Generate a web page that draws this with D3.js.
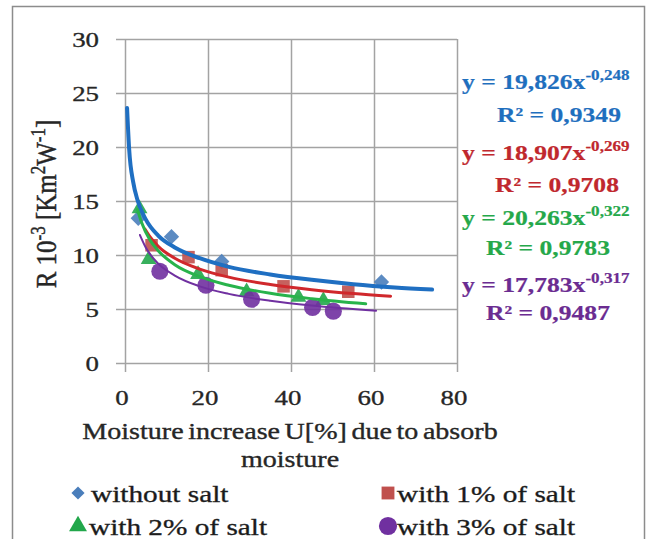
<!DOCTYPE html>
<html>
<head>
<meta charset="utf-8">
<script src="https://cdn.jsdelivr.net/npm/d3@7"></script>
<style>
body { margin: 0; background: #fff; }
text { font-family: "Liberation Serif", "Times New Roman", serif; }
</style>
</head>
<body>
<div id="chart"></div>
<script>
/* thermal resistance vs moisture increase, four salt contents, with power trendlines */

var blue_x = [3.2, 11.2, 23.3, 61.8]
var blue_y = [13.4, 11.7, 9.4, 7.5]
var red_x = [6.4, 15.3, 23.3, 38.2, 53.8]
var red_y = [10.9, 9.8, 8.6, 7.1, 6.6]
var green_x = [3.5, 5.7, 17.6, 29.3, 41.8, 47.8]
var green_y = [14.3, 9.6, 8.2, 6.6, 6.1, 5.8]
var purple_x = [8.4, 19.5, 30.5, 45.2, 50.2]
var purple_y = [8.5, 7.2, 5.9, 5.15, 4.8]

// trendline points
var blue_trend = [[0.5, 23.6], [1, 19.8], [2, 16.7], [3, 15.1], [5, 13.3], [8, 11.8], [12, 10.7], [18, 9.7], [25, 8.9], [35, 8.2], [45, 7.7], [55, 7.3], [65, 7.0], [74, 6.8]]
var red_trend = [[4.8, 12.4], [6, 11.7], [8, 10.8], [12, 9.7], [18, 8.7], [25, 7.95], [35, 7.27], [45, 6.79], [55, 6.43], [64, 6.18]]
var green_trend = [[3, 14.2], [4, 13.0], [6, 11.4], [8, 10.4], [12, 9.1], [18, 8.0], [25, 7.2], [35, 6.45], [45, 5.95], [58, 5.48]]
var purple_trend = [[3.6, 11.85], [5, 10.7], [8, 9.2], [12, 8.1], [18, 7.1], [25, 6.4], [35, 5.76], [45, 5.32], [60.5, 4.84]]

// labels
var series_names = ["without salt", "with 1% of salt", "with 2% of salt", "with 3% of salt"]
var eq_main = ["y = 19,826x", "y = 18,907x", "y = 20,263x", "y = 17,783x"]
var eq_power = ["-0,248", "-0,269", "-0,322", "-0,317"]
var eq_r2 = ["R\u00b2 = 0,9349", "R\u00b2 = 0,9708", "R\u00b2 = 0,9783", "R\u00b2 = 0,9487"]
var x_ticks = [0, 20, 40, 60, 80]
var y_ticks = [0, 5, 10, 15, 20, 25, 30]

var width = 650, height = 539;
var SX = 1.22; // the original picture is stretched sideways

var svg = d3.select("#chart")
    .append("svg")
    .attr("width", width)
    .attr("height", height)

// outer frame
svg.append("rect")
    .attr("x", 12.5).attr("y", 6.5)
    .attr("width", 632).attr("height", 545)
    .attr("fill", "#fff")
    .attr("stroke", "#8c8c8c")
    .attr("stroke-width", 1.5)

var x = d3.scaleLinear().domain([0, 80]).range([125, 457]);
var y = d3.scaleLinear().domain([0, 30]).range([363, 39]);

// text that is stretched like the original, a little heavier too
function stext(parent, px, py, size, rot) {
    return parent.append("text")
        .attr("transform", "translate(" + px + "," + py + ") scale(" + SX + ",1)" + (rot ? " rotate(" + rot + ")" : ""))
        .attr("font-size", size)
        .attr("fill", "#262626")
        .attr("stroke", "#262626")
        .attr("stroke-width", 0.35)
}

// grid lines
svg.append("g")
    .attr("transform", "translate(116,0)")
    .call(d3.axisLeft(y).tickValues(y_ticks).tickSize(-(457 - 116)).tickFormat(""))
    .call(function(g) { g.select(".domain").remove(); })
svg.append("g")
    .attr("transform", "translate(0,372)")
    .call(d3.axisBottom(x).tickValues(x_ticks).tickSize(-(372 - 39)).tickFormat(""))
    .call(function(g) { g.select(".domain").remove(); })
svg.selectAll(".tick line")
    .attr("stroke", "#a3a3a3")
    .attr("stroke-width", 1.5)

// tick labels
y_ticks.forEach(function(v) {
    stext(svg, 99, y(v) + 7.5, 22).attr("text-anchor", "end").text(v)
})
x_ticks.forEach(function(v) {
    stext(svg, x(v) - 3, 405, 22).attr("text-anchor", "middle").text(v)
})

// x axis label
stext(svg, 290, 439, 23).attr("text-anchor", "middle")
    .attr("word-spacing", -2)
    .text("Moisture increase U[%] due to absorb")
stext(svg, 290, 467, 23).attr("text-anchor", "middle").text("moisture")

// y axis label
var yl = stext(svg, 56, 204, 25, -90).attr("text-anchor", "middle")
yl.append("tspan").text("R 10")
yl.append("tspan").attr("font-size", 17).attr("dy", -9).text("-3")
yl.append("tspan").attr("dy", 9).text(" [Km")
yl.append("tspan").attr("font-size", 17).attr("dy", -9).text("2")
yl.append("tspan").attr("dy", 9).text("W")
yl.append("tspan").attr("font-size", 17).attr("dy", -9).text("-1")
yl.append("tspan").attr("dy", 9).text("]")

var colors = ["#4a7ebb", "#c0504d", "#22a74b", "#7030a0"];
var line_colors = ["#1f6fc2", "#d0282c", "#28b34b", "#7030a0"];
var line_widths = [4, 3, 3, 2];
var symbols = [d3.symbolDiamond2, d3.symbolSquare2, d3.symbolTriangle2, d3.symbolCircle];
var sym_sizes = [150, 200, 180, 230];

var series = [
    {xs: blue_x, ys: blue_y, trend: blue_trend},
    {xs: red_x, ys: red_y, trend: red_trend},
    {xs: green_x, ys: green_y, trend: green_trend},
    {xs: purple_x, ys: purple_y, trend: purple_trend}
]

// markers
series.forEach(function(s, i) {
    svg.append("g").selectAll("path")
        .data(s.xs.map(function(v, j) { return [v, s.ys[j]]; }))
        .enter()
        .append("path")
        .attr("transform", function(d) { return "translate(" + x(d[0]) + "," + y(d[1]) + ")"; })
        .attr("d", d3.symbol().type(symbols[i]).size(sym_sizes[i]))
        .attr("fill", colors[i])
        .attr("opacity", 0.9)
})

// trendlines
var lineGenerator = d3.line()
    .x(function(d) { return x(d[0]); })
    .y(function(d) { return y(d[1]); })
    .curve(d3.curveMonotoneX)

series.forEach(function(s, i) {
    svg.append("path")
        .attr("d", lineGenerator(s.trend))
        .attr("fill", "none")
        .attr("stroke", line_colors[i])
        .attr("stroke-width", line_widths[i])
        .attr("stroke-linecap", "round")
})

// trendline equations
var eq_colors = ["#1f6fbe", "#c0282e", "#25a84a", "#6b2c91"];
var eq_base = [89, 160, 225, 292];
var r2_base = [122, 192, 255, 320];
var r2_left = [497, 495, 486, 486];
eq_main.forEach(function(t, i) {
    var e = stext(svg, 462, eq_base[i], 21).attr("font-weight", "bold")
        .attr("fill", eq_colors[i]).attr("stroke", eq_colors[i]).attr("stroke-width", 0.2)
    e.append("tspan").text(t)
    e.append("tspan").attr("font-size", 14).attr("dy", -9).text(eq_power[i])
    stext(svg, r2_left[i], r2_base[i], 21).attr("font-weight", "bold")
        .attr("fill", eq_colors[i]).attr("stroke", eq_colors[i]).attr("stroke-width", 0.2)
        .text(eq_r2[i])
})

// legend
var leg_x = [78, 388, 78, 388];
var leg_y = [493, 493, 526, 526];
var leg_text_x = [91, 397, 89, 397];
series_names.forEach(function(n, i) {
    svg.append("path")
        .attr("transform", "translate(" + leg_x[i] + "," + leg_y[i] + ")")
        .attr("d", d3.symbol().type(symbols[i]).size([110, 210, 230, 260][i]))
        .attr("fill", colors[i])
    stext(svg, leg_text_x[i], leg_y[i] + 9, 24).attr("fill", "#1a1a1a").text(n)
})
</script>
</body>
</html>
